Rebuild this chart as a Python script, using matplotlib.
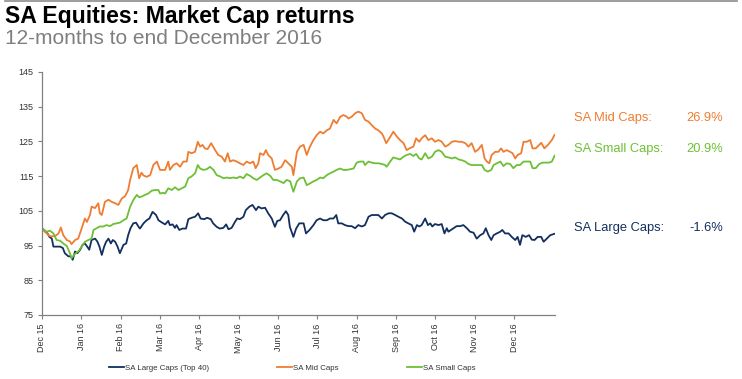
import matplotlib
matplotlib.use("Agg")
import matplotlib.pyplot as plt
from matplotlib.lines import Line2D

plt.rcParams['font.family'] = ['Liberation Sans', 'DejaVu Sans']

# --- data: x in months since start of period, y = index (start = 100) ---
months = ['Dec 15', 'Jan 16', 'Feb 16', 'Mar 16', 'Apr 16', 'May 16', 'Jun 16',
          'Jul 16', 'Aug 16', 'Sep 16', 'Oct 16', 'Nov 16', 'Dec 16']

mid_x = [0, 0.12, 0.20, 0.33, 0.42, 0.48, 0.54, 0.63, 0.71, 0.75, 0.84, 0.92, 1.01, 1.09, 1.14,
         1.22, 1.26, 1.35, 1.43, 1.47, 1.52, 1.60, 1.69, 1.77, 1.86, 1.94, 2.03, 2.11, 2.19, 2.24,
         2.32, 2.41, 2.47, 2.53, 2.58, 2.66, 2.75, 2.83, 2.92, 3.00, 3.13, 3.21, 3.25, 3.34, 3.42,
         3.51, 3.59, 3.68, 3.72, 3.80, 3.89, 3.96, 4.02, 4.08, 4.14, 4.21, 4.30, 4.40, 4.48, 4.57,
         4.65, 4.72, 4.78, 4.86, 4.95, 5.03, 5.12, 5.20, 5.29, 5.37, 5.43, 5.50, 5.54, 5.63, 5.69,
         5.75, 5.84, 5.92, 6.01, 6.09, 6.18, 6.26, 6.35, 6.39, 6.48, 6.56, 6.65, 6.73, 6.81, 6.90,
         6.98, 7.07, 7.15, 7.24, 7.32, 7.41, 7.49, 7.58, 7.66, 7.75, 7.79, 7.87, 7.96, 8.04, 8.13,
         8.21, 8.30, 8.38, 8.47, 8.55, 8.64, 8.68, 8.75, 8.83, 8.93, 9.02, 9.10, 9.19, 9.27, 9.34,
         9.44, 9.51, 9.59, 9.65, 9.74, 9.82, 9.91, 9.99, 10.08, 10.16, 10.25, 10.33, 10.42, 10.50,
         10.59, 10.67, 10.76, 10.84, 10.92, 11.01, 11.09, 11.18, 11.25, 11.31, 11.37, 11.43, 11.52,
         11.60, 11.67, 11.73, 11.81, 11.90, 11.96, 12.03, 12.09, 12.18, 12.24, 12.32, 12.41, 12.47,
         12.55, 12.64, 12.69, 12.77, 12.86, 12.96, 13.03]
mid_y = [100.0, 98.5, 97.7, 97.7, 98.5, 100.2, 98.0, 96.6, 96.2, 95.4, 96.6, 97.0, 100.0, 102.8, 101.8,
         103.8, 106.2, 105.8, 107.2, 104.3, 103.8, 107.6, 108.2, 107.6, 107.2, 106.7, 108.6, 109.2, 111.0, 113.9,
         117.3, 118.2, 114.4, 116.0, 115.2, 114.8, 115.3, 118.2, 119.2, 116.8, 116.8, 119.2, 116.8, 118.2, 118.7,
         117.7, 119.2, 119.2, 122.0, 121.6, 122.0, 124.9, 123.5, 124.0, 123.0, 122.8, 124.5, 122.5, 121.1, 120.6,
         119.2, 121.6, 119.2, 119.6, 119.2, 118.7, 118.2, 119.2, 118.7, 119.2, 117.3, 118.7, 121.6, 121.1, 122.5,
         121.1, 120.1, 116.8, 117.2, 117.7, 119.6, 118.7, 117.7, 115.3, 122.0, 123.5, 124.0, 121.1, 123.5, 125.4,
         126.8, 127.8, 127.3, 128.2, 128.7, 131.2, 130.2, 132.1, 132.6, 132.1, 131.6, 132.1, 133.1, 133.6, 133.1,
         131.2, 130.7, 129.7, 128.7, 128.2, 127.3, 126.4, 124.5, 125.9, 127.8, 126.4, 125.4, 124.5, 122.5, 123.0,
         123.5, 125.9, 124.9, 125.9, 126.8, 125.4, 125.9, 124.9, 125.4, 124.9, 123.5, 124.0, 124.9, 125.1,
         124.9, 124.9, 124.5, 123.5, 124.5, 122.0, 122.7, 124.0, 120.1, 119.2, 118.7, 121.1, 122.0,
         122.0, 123.0, 122.0, 122.5, 122.0, 121.6, 120.1, 121.1, 121.6, 124.9, 124.9, 125.4, 123.0,
         123.0, 124.0, 124.6, 123.0, 124.0, 125.4, 126.9]

small_x = [0, 0.12, 0.20, 0.29, 0.37, 0.46, 0.54, 0.63, 0.71, 0.75, 0.84, 0.92, 1.01, 1.09, 1.18,
           1.26, 1.31, 1.39, 1.47, 1.56, 1.64, 1.73, 1.81, 1.90, 1.98, 2.07, 2.15, 2.24, 2.32, 2.41,
           2.47, 2.53, 2.62, 2.70, 2.79, 2.87, 2.96, 3.00, 3.08, 3.13, 3.21, 3.30, 3.38, 3.47, 3.55,
           3.64, 3.72, 3.80, 3.89, 3.96, 4.02, 4.10, 4.19, 4.27, 4.36, 4.44, 4.53, 4.61, 4.70, 4.78,
           4.86, 4.95, 5.03, 5.12, 5.20, 5.29, 5.37, 5.46, 5.54, 5.63, 5.71, 5.80, 5.88, 5.97, 6.05,
           6.14, 6.22, 6.31, 6.39, 6.48, 6.56, 6.65, 6.73, 6.81, 6.90, 6.98, 7.07, 7.15, 7.24, 7.32,
           7.41, 7.49, 7.58, 7.66, 7.75, 7.83, 7.92, 8.00, 8.09, 8.17, 8.21, 8.30, 8.38, 8.47, 8.55,
           8.64, 8.72, 8.76, 8.85, 8.93, 9.02, 9.10, 9.19, 9.27, 9.36, 9.44, 9.51, 9.59, 9.65, 9.74,
           9.82, 9.91, 9.99, 10.08, 10.16, 10.25, 10.33, 10.42, 10.50, 10.59, 10.67, 10.76, 10.84,
           10.92, 11.01, 11.09, 11.18, 11.25, 11.33, 11.42, 11.48, 11.56, 11.65, 11.73, 11.81, 11.90,
           11.98, 12.07, 12.15, 12.24, 12.32, 12.41, 12.47, 12.55, 12.64, 12.72, 12.81, 12.89, 12.96, 13.03]
small_y = [100.0, 99.0, 99.3, 98.5, 96.6, 96.4, 95.6, 94.9, 92.8, 91.4, 92.6, 93.3, 94.7, 96.1, 96.6,
           97.0, 99.5, 100.0, 100.5, 100.5, 100.9, 100.6, 101.2, 101.4, 101.6, 102.3, 102.8, 106.2, 108.1, 109.6,
           108.9, 109.1, 109.6, 110.0, 110.8, 111.0, 111.0, 110.0, 110.2, 110.0, 111.5, 111.0, 111.8, 111.0, 111.5,
           112.0, 114.4, 114.9, 115.8, 118.2, 117.2, 116.8, 117.0, 117.7, 116.8, 115.3, 114.9, 114.4, 114.6, 114.4,
           114.6, 114.4, 114.9, 114.4, 115.6, 115.1, 114.4, 113.9, 114.6, 115.3, 115.8, 115.1, 113.9, 113.9, 113.5,
           113.0, 113.9, 113.5, 110.5, 113.5, 114.4, 114.6, 112.4, 112.9, 113.5, 113.9, 114.6, 114.4, 115.3, 115.8,
           116.3, 116.8, 117.2, 116.8, 116.8, 117.0, 117.2, 118.9, 119.2, 119.2, 118.2, 119.2, 118.9, 118.7, 118.7,
           118.5, 118.2, 117.7, 119.2, 120.4, 120.1, 119.8, 120.6, 121.1, 121.4, 120.8, 121.4, 120.1, 119.8, 121.6,
           120.1, 120.6, 122.0, 122.5, 122.0, 120.6, 120.4, 120.1, 120.4, 119.8, 119.6, 119.2, 118.5,
           118.2, 118.2, 118.2, 118.2, 116.8, 116.3, 116.8, 118.2, 118.7, 119.2, 117.9, 118.7, 118.5,
           117.3, 118.2, 118.2, 119.2, 119.2, 119.2, 117.3, 117.3, 118.5, 118.9, 118.9, 118.9, 119.2, 120.9]

large_x = [0, 0.08, 0.14, 0.19, 0.25, 0.29, 0.37, 0.46, 0.53, 0.58, 0.67, 0.73, 0.78, 0.84, 0.90,
           0.97, 1.03, 1.09, 1.15, 1.20, 1.26, 1.35, 1.41, 1.46, 1.52, 1.58, 1.63, 1.69, 1.75, 1.80,
           1.86, 1.92, 1.98, 2.07, 2.14, 2.19, 2.25, 2.32, 2.39, 2.45, 2.49, 2.58, 2.66, 2.73, 2.81,
           2.90, 2.96, 3.04, 3.13, 3.21, 3.25, 3.32, 3.38, 3.42, 3.49, 3.57, 3.66, 3.72, 3.80, 3.89,
           3.97, 4.03, 4.12, 4.20, 4.29, 4.35, 4.44, 4.52, 4.61, 4.68, 4.74, 4.82, 4.91, 4.96, 5.03,
           5.12, 5.18, 5.27, 5.35, 5.44, 5.50, 5.58, 5.67, 5.75, 5.84, 5.92, 5.98, 6.05, 6.13, 6.20,
           6.26, 6.30, 6.39, 6.46, 6.54, 6.65, 6.71, 6.80, 6.90, 6.98, 7.07, 7.15, 7.24, 7.32, 7.41,
           7.48, 7.53, 7.62, 7.70, 7.79, 7.87, 7.96, 8.04, 8.13, 8.21, 8.30, 8.38, 8.47, 8.55, 8.64,
           8.72, 8.81, 8.89, 8.98, 9.06, 9.15, 9.23, 9.31, 9.40, 9.46, 9.53, 9.59, 9.65, 9.74, 9.81,
           9.87, 9.92, 9.99, 10.08, 10.16, 10.23, 10.29, 10.33, 10.46, 10.54, 10.63, 10.71, 10.80,
           10.88, 10.97, 11.05, 11.14, 11.22, 11.28, 11.35, 11.42, 11.48, 11.56, 11.65, 11.70, 11.77,
           11.86, 11.94, 12.03, 12.09, 12.15, 12.21, 12.30, 12.38, 12.45, 12.52, 12.60, 12.69, 12.75,
           12.83, 12.92, 13.03]
large_y = [100.0, 99.0, 98.5, 97.5, 97.0, 94.7, 94.7, 94.7, 94.3, 92.8, 91.9, 91.9, 90.9, 93.3, 92.8,
           93.8, 95.2, 95.6, 94.7, 93.8, 96.6, 97.0, 96.1, 94.7, 92.3, 94.7, 96.1, 97.0, 95.6, 96.6,
           96.1, 94.7, 92.8, 95.2, 95.6, 98.0, 100.0, 101.4, 101.6, 100.5, 99.9, 101.4, 102.3, 102.8, 104.7,
           103.8, 102.3, 101.7, 101.1, 102.1, 100.9, 101.1, 100.1, 100.9, 99.5, 99.9, 99.9, 102.6, 103.0, 103.3,
           104.3, 102.8, 102.6, 103.0, 102.6, 101.4, 100.4, 99.9, 100.1, 101.1, 99.7, 100.1, 101.9, 102.8, 102.6,
           103.3, 105.2, 106.2, 106.7, 105.2, 106.2, 105.7, 105.9, 104.3, 102.8, 100.4, 102.1, 102.3, 103.8, 104.9,
           103.8, 100.4, 97.5, 99.9, 101.4, 101.4, 98.5, 99.5, 100.9, 102.3, 102.8, 102.3, 102.3, 102.8, 102.8,
           103.8, 101.4, 101.4, 100.9, 100.6, 100.6, 100.0, 100.9, 100.5, 100.9, 103.3, 103.8, 103.8, 103.8, 102.8,
           103.8, 104.3, 104.3, 103.8, 103.3, 102.8, 101.9, 101.4, 100.9, 99.0, 100.9, 100.5, 100.9, 102.8, 100.9,
           101.4, 100.5, 101.2, 100.9, 101.2, 98.5, 100.0, 99.0, 100.0, 100.6, 100.6, 100.9, 100.0,
           99.0, 98.7, 97.0, 98.0, 98.5, 100.0, 98.0, 96.6, 98.0, 98.5, 99.0, 99.5, 98.5,
           98.5, 97.5, 96.6, 97.5, 95.2, 98.0, 97.5, 98.0, 96.7, 96.6, 97.5, 97.5, 96.1,
           97.0, 98.0, 98.4]

series_names = ['SA Large Caps (Top 40)', 'SA Mid Caps', 'SA Small Caps']
side_labels = ['SA Mid Caps:', 'SA Small Caps:', 'SA Large Caps:']
side_values = ['26.9%', '20.9%', '-1.6%']

navy = '#132F5E'
orange = '#EE7D31'
green = '#6DC035'
grey = '#808080'

fig = plt.figure(figsize=(7.42, 3.79), dpi=100)
ax = fig.add_axes([42 / 742, 1 - 315 / 379, 513 / 742, 243 / 379])

ax.plot(large_x, large_y, color=navy, lw=1.3)
ax.plot(mid_x, mid_y, color=orange, lw=1.3)
ax.plot(small_x, small_y, color=green, lw=1.3)

ax.set_xlim(0, 13.04)
ax.set_ylim(75, 145)
ax.set_yticks(range(75, 146, 10))
ax.set_xticks(range(len(months)))
ax.set_xticklabels(months, rotation=90)
ax.tick_params(axis='both', labelsize=6.5, colors=grey, labelcolor='#333333',
               length=3, width=0.8, pad=3)
for side in ['top', 'right']:
    ax.spines[side].set_visible(False)
for side in ['left', 'bottom']:
    ax.spines[side].set_color(grey)
    ax.spines[side].set_linewidth(0.9)

# titles
fig.add_artist(Line2D([5 / 742, 737 / 742], [1 - 1 / 379] * 2, color='#8c8c8c', lw=1.2))
fig.text(5 / 742, 1 - 23 / 379, 'SA Equities: Market Cap returns', fontsize=16.6,
         fontweight='bold', color='black', va='baseline')
fig.text(5 / 742, 1 - 44 / 379, '12-months to end December 2016', fontsize=15,
         color='#7f7f7f', va='baseline')

# side labels
label_colors = [orange, green, navy]
label_y = [118, 149, 228]
for lab, val, c, yy in zip(side_labels, side_values, label_colors, label_y):
    fig.text(574 / 742, 1 - yy / 379, lab, fontsize=9.3, color=c, va='center', ha='left')
    fig.text(723 / 742, 1 - yy / 379, val, fontsize=9.3, color=c, va='center', ha='right')

# legend
handles = [Line2D([], [], color=c, lw=1.3) for c in [navy, orange, green]]
fig.legend(handles, series_names, loc='center', bbox_to_anchor=(292 / 742, 1 - 368 / 379),
           ncol=3, frameon=False, fontsize=5.7, handlelength=1.9, handletextpad=0.15,
           columnspacing=8.6, labelcolor='#333333')

fig.savefig('out.png', dpi=100)
